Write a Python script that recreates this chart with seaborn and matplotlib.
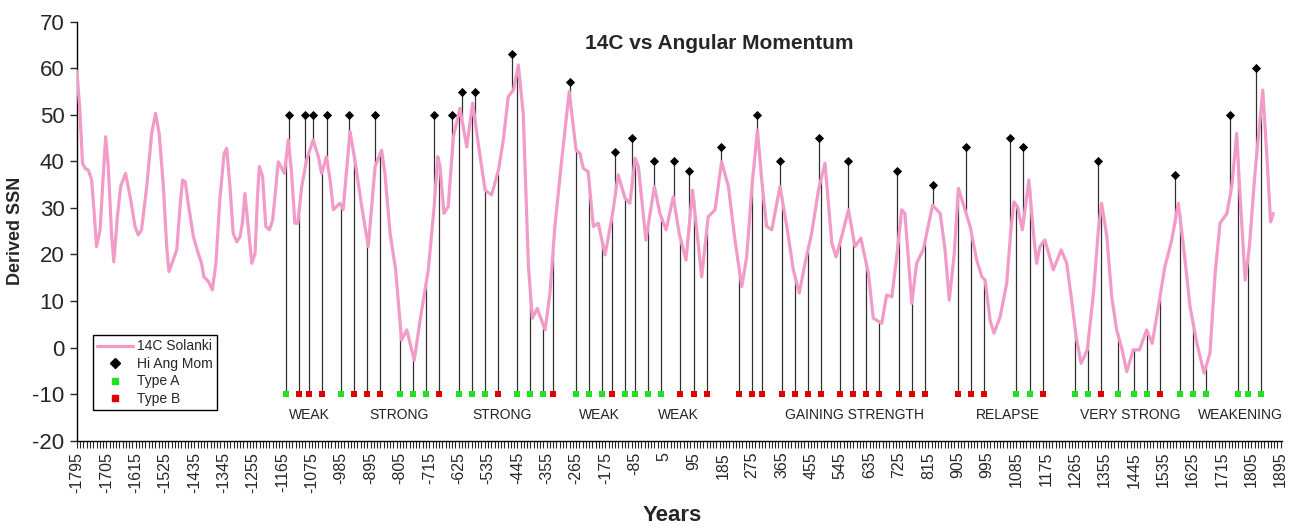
# ===============================
# 14C vs Angular Momentum
# ===============================

import numpy as np
import pandas as pd
import matplotlib
matplotlib.use("Agg")
import matplotlib.pyplot as plt
from matplotlib.lines import Line2D
import seaborn as sns

# ---------- Data ----------
curve_years = [
    -1795, -1786, -1778, -1770, -1760, -1750, -1742, -1735, -1724, -1714,
    -1707, -1699, -1689, -1682, -1671, -1661, -1646, -1630, -1617, -1607,
    -1597, -1581, -1566, -1554, -1543, -1530, -1520, -1513, -1500, -1489,
    -1479, -1471, -1463, -1454, -1438, -1423, -1413, -1406, -1392, -1380,
    -1369, -1357, -1344, -1336, -1326, -1316, -1305, -1295, -1288, -1280,
    -1270, -1259, -1249, -1242, -1236, -1226, -1216, -1205, -1195, -1185,
    -1178, -1170, -1159, -1147, -1137, -1127, -1118, -1106, -1091, -1071,
    -1055, -1045, -1030, -1019, -1009, -989, -979, -958, -943, -922,
    -902, -881, -861, -851, -835, -818, -800, -784, -761, -743,
    -718, -700, -689, -682, -670, -657, -641, -621, -600, -582,
    -565, -544, -524, -503, -488, -473, -457, -442, -427, -411,
    -399, -384, -360, -345, -330, -309, -286, -265, -253, -243,
    -228, -212, -197, -176, -153, -136, -115, -100, -84, -74,
    -51, -25, -8, 11, 33, 51, 72, 92, 120, 140,
    161, 181, 202, 222, 243, 258, 275, 291, 304, 319,
    335, 360, 381, 401, 419, 437, 457, 478, 498, 519,
    532, 549, 570, 590, 608, 631, 646, 672, 687, 703,
    718, 733, 743, 764, 779, 799, 828, 851, 866, 879,
    894, 907, 927, 943, 963, 979, 989, 1004, 1016, 1035,
    1055, 1067, 1077, 1088, 1103, 1123, 1137, 1147, 1157, 1172,
    1198, 1222, 1239, 1254, 1268, 1283, 1302, 1321, 1336, 1346,
    1362, 1377, 1392, 1408, 1423, 1443, 1462, 1484, 1501, 1520,
    1540, 1561, 1581, 1597, 1617, 1638, 1660, 1678, 1694, 1709,
    1730, 1745, 1760, 1770, 1786, 1799, 1816, 1840, 1852, 1864,
    1872,
]
curve_ssn = [
    59.3, 51.0, 39.6, 38.5, 38.1, 36.0, 28.8, 21.7, 25.3, 37.4,
    45.3, 38.9, 24.5, 18.4, 28.1, 34.6, 37.4, 31.7, 26.0, 24.2,
    25.3, 34.6, 46.0, 50.3, 46.0, 34.6, 21.7, 16.3, 18.8, 21.0,
    30.3, 36.0, 35.6, 31.0, 23.8, 20.2, 18.1, 15.2, 14.2, 12.4,
    18.1, 31.7, 41.7, 42.8, 34.6, 24.5, 22.7, 23.8, 26.7, 33.1,
    26.0, 18.1, 20.2, 31.7, 38.9, 36.7, 26.0, 25.3, 27.4, 34.6,
    39.9, 38.9, 37.4, 44.6, 37.4, 26.7, 26.7, 34.6, 40.3, 44.6,
    41.0, 37.4, 41.0, 36.0, 29.6, 31.0, 29.6, 46.4, 40.3, 30.3,
    21.7, 38.9, 42.4, 37.4, 24.5, 16.7, 1.6, 3.8, -2.7, 5.9,
    16.7, 30.3, 41.0, 38.9, 28.8, 30.3, 45.3, 51.4, 43.1, 52.5,
    43.9, 33.8, 32.8, 38.1, 44.6, 53.9, 55.3, 60.7, 50.3, 17.4,
    6.3, 8.4, 3.8, 11.7, 26.0, 40.3, 55.0, 42.4, 41.7, 38.5,
    37.8, 26.0, 26.7, 19.9, 28.8, 37.1, 32.1, 31.0, 40.7, 38.9,
    23.1, 34.6, 28.8, 25.3, 32.4, 24.5, 18.8, 33.8, 15.2, 28.1,
    29.6, 39.9, 34.6, 23.1, 13.1, 19.5, 35.3, 46.7, 36.0, 26.0,
    25.3, 34.6, 26.0, 16.7, 11.7, 18.1, 24.5, 33.8, 39.6, 22.4,
    19.5, 23.8, 29.6, 21.7, 23.5, 16.0, 6.3, 5.2, 11.3, 10.9,
    19.5, 29.6, 28.8, 9.5, 18.1, 21.0, 30.6, 28.8, 21.0, 10.2,
    20.0, 34.2, 29.6, 26.0, 18.8, 15.2, 14.5, 5.9, 3.1, 6.6,
    13.8, 24.5, 31.3, 30.3, 25.3, 36.0, 24.5, 18.1, 21.7, 23.1,
    16.7, 21.0, 18.1, 10.2, 2.3, -3.4, -0.5, 11.7, 25.3, 31.0,
    23.8, 10.9, 3.8, -0.2, -5.2, -0.5, -0.5, 3.8, 0.9, 8.8,
    17.4, 23.1, 31.0, 21.7, 8.8, 0.9, -5.5, -1.2, 16.0, 26.7,
    28.8, 34.6, 46.0, 33.1, 14.5, 21.7, 37.4, 55.3, 41.7, 27.0,
    28.8,
]

hi_years = [
    -1145, -1095, -1070, -1030, -960, -880, -700, -645, -615, -575,
    -460, -285, -145, -95, -25, 35, 80, 180, 290, 360,
    480, 570, 720, 830, 930, 1065, 1105, 1335, 1570, 1740,
    1820,
]
hi_values = [
    50, 50, 50, 50, 50, 50, 50, 50, 55, 55,
    63, 57, 42, 45, 40, 40, 38, 43, 50, 40,
    45, 40, 38, 35, 43, 45, 43, 40, 37, 50,
    60,
]

type_a_years = [
    -1155, -985, -805, -765, -725, -625, -585, -545, -445, -405,
    -365, -265, -225, -185, -115, -85, -45, -5, 1085, 1125,
    1265, 1305, 1395, 1445, 1485, 1585, 1625, 1665, 1765, 1795,
    1835,
]
type_b_years = [
    -1115, -1085, -1045, -945, -905, -865, -685, -505, -335, -155,
    55, 95, 135, 235, 275, 305, 365, 405, 445, 485,
    545, 585, 625, 665, 725, 765, 805, 905, 945, 985,
    1165, 1345, 1525,
]
type_level = -10

phase_names = ["WEAK", "STRONG", "STRONG", "WEAK", "WEAK",
               "GAINING STRENGTH", "RELAPSE", "VERY STRONG", "WEAKENING"]
phase_years = [-1081, -808, -492, -195, 50, 590, 1059, 1433, 1770]

tick_years = list(range(-1795, 1896, 90))

# ---------- Frames ----------
curve = pd.DataFrame({"Year": curve_years, "SSN": curve_ssn})
hi = pd.DataFrame({"Year": hi_years, "SSN": hi_values})
type_a = pd.DataFrame({"Year": type_a_years, "SSN": type_level})
type_b = pd.DataFrame({"Year": type_b_years, "SSN": type_level})

# ---------- Style ----------
sns.set_style("white")
plt.rcParams["font.family"] = ["Liberation Sans", "DejaVu Sans"]
plt.rcParams["axes.unicode_minus"] = False

PINK = "#F29BC9"
GREEN = "#22E022"
RED = "#E00000"
STEM = "#303030"

fig = plt.figure(figsize=(12.91, 5.29), dpi=100)
ax = fig.add_axes([0.0596, 0.167, 0.9337, 0.792])

# ---------- Stems ----------
def curve_at(years):
    return np.interp(years, curve_years, curve_ssn)

for yr in type_a_years + type_b_years:
    ax.plot([yr, yr], [type_level, curve_at(yr)], color=STEM, lw=0.9, zorder=1)
for yr, v in zip(hi_years, hi_values):
    ax.plot([yr, yr], [v, curve_at(yr)], color=STEM, lw=0.9, zorder=1)

# ---------- Series ----------
sns.lineplot(data=curve, x="Year", y="SSN", color=PINK, lw=2.3,
             estimator=None, sort=False, ax=ax, zorder=3)
plt.setp(ax.lines[-1], solid_joinstyle="round", solid_capstyle="round")
sns.scatterplot(data=hi, x="Year", y="SSN", marker="D", color="black",
                s=22, edgecolor="black", linewidth=0, ax=ax, zorder=4)
sns.scatterplot(data=type_a, x="Year", y="SSN", marker="s", color=GREEN,
                s=24, linewidth=0, ax=ax, zorder=4)
sns.scatterplot(data=type_b, x="Year", y="SSN", marker="s", color=RED,
                s=24, linewidth=0, ax=ax, zorder=4)

# ---------- Phase labels ----------
for name, yr in zip(phase_names, phase_years):
    ax.text(yr, -14.5, name, ha="center", va="center", fontsize=10, color="#222222")

# ---------- Axes ----------
ax.set_xlim(-1795, 1900)
ax.set_ylim(-20, 70)
ax.set_yticks(range(-20, 71, 10))
ax.set_xticks(tick_years)
ax.set_xticklabels([str(t) for t in tick_years], rotation=90)
ax.set_xticks(range(-1795, 1900, 10), minor=True)
ax.tick_params(axis="y", labelsize=16, length=5, width=1, direction="out", left=True, pad=4)
ax.tick_params(axis="x", which="both", length=5, width=0.8, direction="out", bottom=True)
ax.tick_params(axis="x", which="major", labelsize=11.5, pad=3)

for side in ["top", "right"]:
    ax.spines[side].set_visible(False)
for side in ["left", "bottom"]:
    ax.spines[side].set_color("black")
    ax.spines[side].set_linewidth(1)

ax.set_xlabel("")
ax.set_ylabel("Derived SSN", fontsize=13, fontweight="bold", labelpad=6)
fig.text(0.521, 0.025, "Years", ha="center", va="center", fontsize=16, fontweight="bold")
fig.text(0.557, 0.917, "14C vs Angular Momentum", ha="center", va="center",
         fontsize=15, fontweight="bold")

# ---------- Legend ----------
handles = [
    Line2D([], [], color=PINK, lw=2.3),
    Line2D([], [], marker="D", color="black", ls="none", markersize=5),
    Line2D([], [], marker="s", color=GREEN, ls="none", markersize=5),
    Line2D([], [], marker="s", color=RED, ls="none", markersize=5),
]
leg = ax.legend(handles, ["14C Solanki", "Hi Ang Mom", "Type A", "Type B"],
                loc="lower left", bbox_to_anchor=(0.013, 0.073), borderaxespad=0,
                fontsize=10, frameon=True, fancybox=False, edgecolor="black",
                framealpha=1, handlelength=2.6, handletextpad=0.3,
                labelspacing=0.25, borderpad=0.3)
leg.get_frame().set_linewidth(1)

fig.savefig("out.png", dpi=100)
